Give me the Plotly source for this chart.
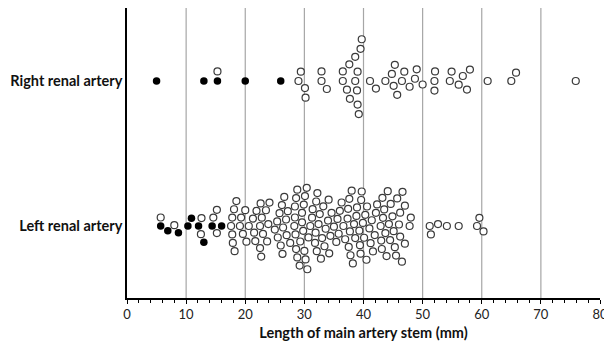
import numpy as np
import plotly.graph_objects as go

# ---------------- data (mm) ----------------
row_labels = ["Left renal artery", "Right renal artery"]

right_filled = [5.0, 13.0, 15.3, 20.0, 26.0]
right_open = [15.3, 29.0, 29.4, 30.1, 30.2, 32.9, 32.9, 33.8, 36.5, 36.5,
              37.2, 37.6, 37.7, 38.6, 38.6, 38.9, 39.0, 39.0, 39.2, 39.5,
              39.7, 41.1, 42.1, 43.7, 44.8, 45.1, 45.3, 45.7, 46.5, 46.9,
              47.8, 48.7, 49.0, 50.0, 52.0, 52.0, 52.1, 54.6, 54.9, 56.1,
              56.8, 57.5, 58.0, 61.0, 65.0, 65.8, 75.9]

left_filled = [5.7, 6.9, 8.7, 10.3, 10.9, 12.1, 13.0, 14.4, 16.0]
left_open = [5.7, 8.0, 12.5, 12.6, 14.6, 15.2, 15.2,
             17.6, 17.8, 17.8, 17.9, 18.1, 18.2, 18.5, 19.1,
             19.3, 19.6, 20.0, 20.2, 20.6,
             21.3, 21.5, 21.7, 21.9, 22.5, 22.5, 22.6, 22.7, 22.8,
             23.0, 23.5, 23.7, 23.9, 24.1,
             25.0, 25.4, 25.5, 25.8, 26.0, 26.2, 26.3, 26.4, 26.6, 26.9, 27.0, 27.2, 27.6,
             28.3, 28.4, 28.4, 28.5, 28.6, 28.6, 28.8, 28.8, 29.2, 29.3, 29.6, 29.6, 29.8, 29.9, 30.0,
             30.1, 30.2, 30.4, 30.5, 30.7, 31.0, 31.3, 31.4,
             31.8, 31.9, 32.0, 32.1, 32.2, 32.4, 32.6, 32.8, 33.0, 33.2, 33.4, 33.6,
             34.0, 34.1, 34.2, 34.4, 34.6, 35.0,
             35.4, 35.6, 35.8, 36.0, 36.3, 36.6, 36.9,
             37.3, 37.4, 37.5, 37.6, 37.7, 37.8, 38.0, 38.2, 38.4, 38.6, 38.8, 38.9,
             39.3, 39.4, 39.5, 39.6, 39.7, 39.9, 40.1, 40.3, 40.5, 40.6,
             41.0, 41.2, 41.4, 41.6, 41.9, 42.1, 42.3,
             42.9, 43.0, 43.1, 43.2, 43.3, 43.5, 43.7, 43.9, 44.1, 44.3, 44.5, 44.6, 44.9,
             45.1, 45.3, 45.5, 45.7, 46.0, 46.2,
             46.2, 46.5, 46.6, 47.0, 47.0, 47.8, 48.0,
             51.2, 51.4, 52.6, 54.1, 56.1, 59.2, 59.6, 60.3]

x_ticks = [0, 10, 20, 30, 40, 50, 60, 70, 80]
grid_x = [10, 20, 30, 40, 50, 60, 70]

# ---------------- layout constants ----------------
W, H = 604, 346
ML, MR, MT, MB = 127, 4, 8, 48
X_RANGE = [0, 80]
PX_PER_MM = (W - ML - MR) / (X_RANGE[1] - X_RANGE[0])
ROW_GAP_PX = 145.0          # pixel distance between the two rows
PLOT_H = H - MT - MB
Y_LO = -72.0 / ROW_GAP_PX
Y_HI = Y_LO + PLOT_H / ROW_GAP_PX


def swarm(values, d):
    """Greedy continuous beeswarm layout (balanced): vertical offsets in pixels."""
    vals = np.asarray(values, dtype=float)
    order = np.argsort(vals, kind="stable")
    placed = []
    offs = np.zeros(len(vals))
    for i in order:
        x = vals[i] * PX_PER_MM
        near = [(px, po) for px, po in placed if abs(px - x) < d]
        cands = [0.0]
        for px, po in near:
            h = np.sqrt(d * d - (px - x) ** 2)
            cands += [po + h + 1e-6, po - h - 1e-6]

        def ok(c):
            return all((x - px) ** 2 + (c - po) ** 2 >= d * d - 1e-6 for px, po in near)

        valid = sorted([c for c in cands if ok(c)], key=abs)
        found = valid[0]
        alt = [c for c in valid if np.sign(c) == -np.sign(found) and abs(c) - abs(found) < 2.0]
        if alt and abs(found) > 1e-3:
            local = [po for px, po in placed if abs(px - x) < 2.5 * d]
            n_up = sum(1 for po in local if po > 1e-3)
            n_dn = sum(1 for po in local if po < -1e-3)
            if (found > 0 and n_up > n_dn) or (found < 0 and n_dn > n_up):
                found = alt[0]
        placed.append((x, found))
        offs[i] = found
    return offs


fig = go.Figure()

rows = [(0, left_open, left_filled, 8.5), (1, right_open, right_filled, 9.6)]
for center, opn, fil, dist in rows:
    vals = list(fil) + list(opn)
    is_filled = [True] * len(fil) + [False] * len(opn)
    offs = swarm(vals, dist)
    ys = center + offs / ROW_GAP_PX
    xo = [v for v, f in zip(vals, is_filled) if not f]
    yo = [y for y, f in zip(ys, is_filled) if not f]
    xf = [v for v, f in zip(vals, is_filled) if f]
    yf = [y for y, f in zip(ys, is_filled) if f]
    fig.add_trace(go.Scatter(
        x=xo, y=yo, mode="markers", showlegend=False, hoverinfo="x",
        marker=dict(size=7, color="white", line=dict(color="#3a3a3a", width=1.2)),
    ))
    fig.add_trace(go.Scatter(
        x=xf, y=yf, mode="markers", showlegend=False, hoverinfo="x",
        marker=dict(size=7.5, color="black", line=dict(width=0)),
    ))

shapes = [dict(type="line", xref="x", yref="paper", x0=g, x1=g, y0=0, y1=1,
               line=dict(color="#a6a6a6", width=1.2), layer="below")
          for g in grid_x]

fig.update_layout(
    width=W, height=H,
    margin=dict(l=ML, r=MR, t=MT, b=MB, autoexpand=False),
    paper_bgcolor="white", plot_bgcolor="white",
    font=dict(family="Lato, 'Open Sans', sans-serif", color="#111"),
    shapes=shapes,
    xaxis=dict(
        range=X_RANGE, tickvals=x_ticks, showgrid=False, zeroline=False,
        showline=True, linecolor="black", linewidth=1.5,
        ticks="outside", ticklen=4, tickwidth=1.2, tickcolor="black",
        minor=dict(ticks="outside", dtick=2, ticklen=3, tickwidth=1, tickcolor="black"),
        tickfont=dict(size=13, color="#222"), ticklabeloverflow="allow",
        title=dict(text="Length of main artery stem (mm)",
                   font=dict(size=14.5, weight="bold", color="#111"), standoff=7),
    ),
    yaxis=dict(
        range=[Y_LO, Y_HI], tickvals=[0, 1], ticktext=row_labels,
        showgrid=False, zeroline=False, showline=True, linecolor="black",
        linewidth=1.5, ticks="",
        tickfont=dict(size=14.5, weight="bold", color="#111"),
    ),
)

fig.write_html(
    "out.html",
    config={"displayModeBar": False},
    post_script="document.body.style.margin='0';document.body.style.overflow='hidden';",
)
